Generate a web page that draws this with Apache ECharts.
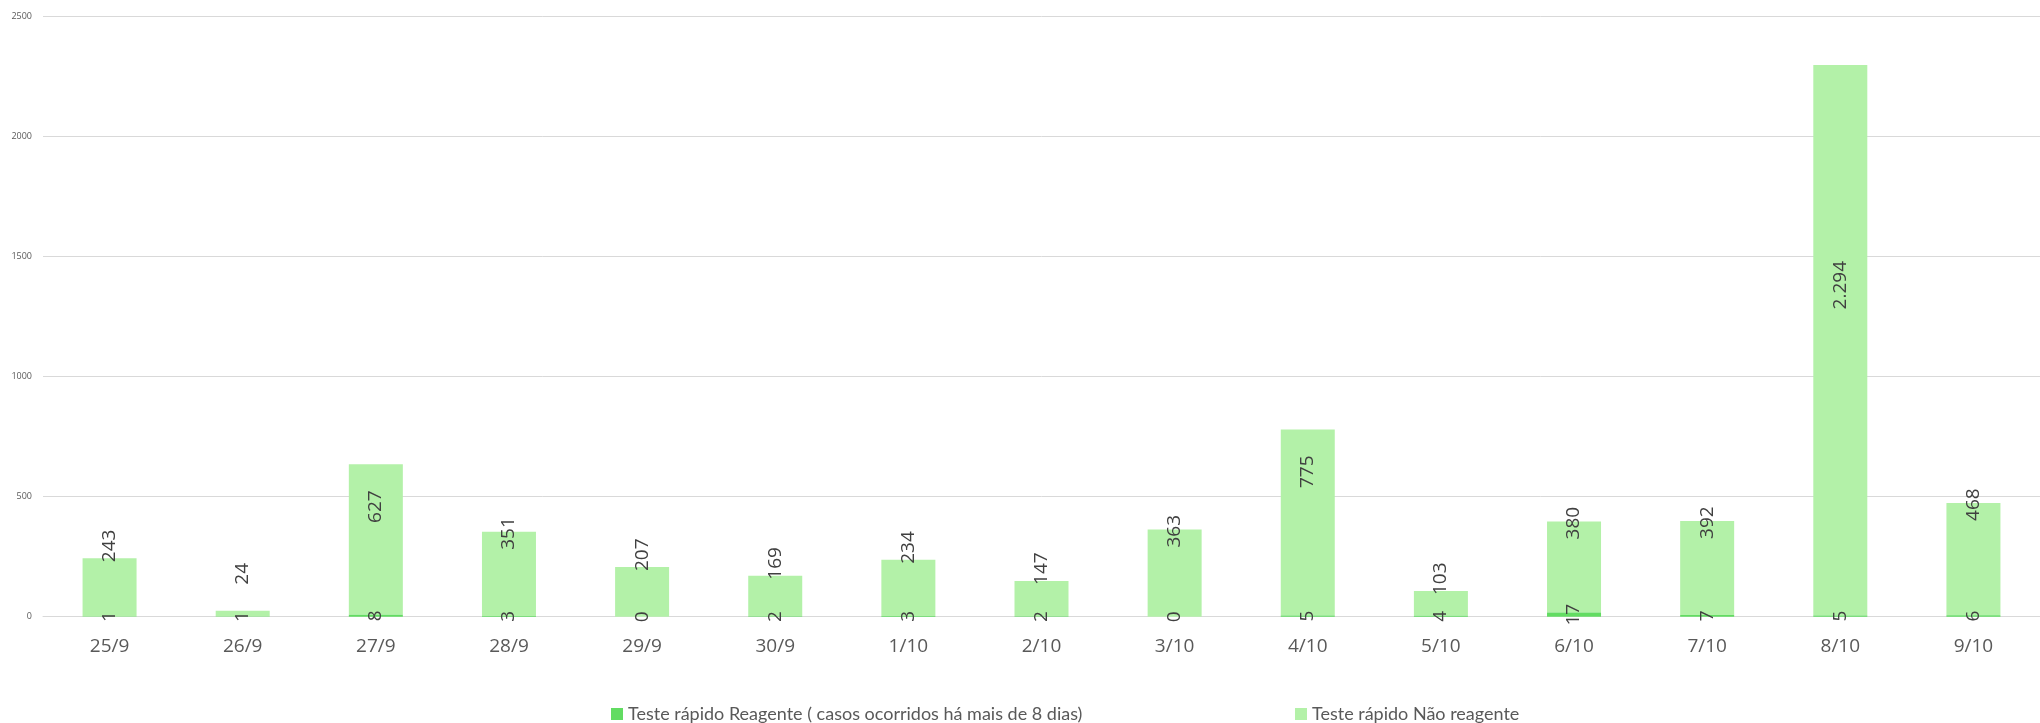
<!DOCTYPE html>
<html>
<head>
<meta charset="utf-8">
<script src="https://cdn.jsdelivr.net/npm/echarts@6/dist/echarts.min.js"></script>
<style>
html,body{margin:0;padding:0;background:#fff;}
#chart{width:2040px;height:723px;}
</style>
</head>
<body>
<div id="chart"></div>
<script>
const categories = ['25/9','26/9','27/9','28/9','29/9','30/9','1/10','2/10','3/10','4/10','5/10','6/10','7/10','8/10','9/10'];
const reagente = [1,1,8,3,0,2,3,2,0,5,4,17,7,5,6];
const naoReagente = [243,24,627,351,207,169,234,147,363,775,103,380,392,2294,468];
const seriesNames = ['Teste rápido Reagente ( casos ocorridos há mais de 8 dias)','Teste rápido Não reagente'];
const yTicks = {min:0, max:2500, interval:500};

const C_DARK = '#62dc62';
const C_LIGHT = '#b3f1a8';
const LABEL_COLOR = '#404040';

function fmt(v){ return v >= 1000 ? v.toLocaleString('pt-BR') : String(v); }

const topData = naoReagente.map(v => {
  let label;
  if (v > 1500) {
    label = {position:'insideTop', distance:196, align:'right', verticalAlign:'middle'};
  } else if (v > 600) {
    label = {position:'insideTop', distance:26, align:'right', verticalAlign:'middle'};
  } else if (v < 30) {
    label = {position:'top', distance:26, align:'left', verticalAlign:'middle'};
  } else if (v >= 300) {
    label = {position:'top', distance:-18, align:'left', verticalAlign:'middle'};
  } else {
    label = {position:'top', distance:-4, align:'left', verticalAlign:'middle'};
  }
  return {value:v, label:label};
});

const chart = echarts.init(document.getElementById('chart'));
chart.setOption({
  animation:false,
  backgroundColor:'#ffffff',
  grid:{left:43, top:16.7, bottom:106.3, width:2011, containLabel:false},
  legend:[
    {data:[seriesNames[0]], left:606, top:700, itemWidth:12, itemHeight:12, itemGap:10,
     textStyle:{fontFamily:'Lato', fontSize:18, color:'#595959'}, icon:'rect'},
    {data:[seriesNames[1]], left:1290, top:700, itemWidth:12, itemHeight:12, itemGap:10,
     textStyle:{fontFamily:'Lato', fontSize:18, color:'#595959'}, icon:'rect'}
  ],
  xAxis:{
    type:'category', data:categories,
    axisLine:{lineStyle:{color:'#d9d9d9', width:1}},
    axisTick:{show:false},
    axisLabel:{color:'#595959', fontFamily:'Open Sans', fontSize:19, margin:20}
  },
  yAxis:{
    type:'value', min:yTicks.min, max:yTicks.max, interval:yTicks.interval,
    axisLine:{show:false}, axisTick:{show:false},
    axisLabel:{color:'#595959', fontFamily:'Open Sans', fontSize:9, margin:11, formatter:v=>String(v)},
    splitLine:{lineStyle:{color:'#d9d9d9', width:1}}
  },
  series:[
    {
      name:seriesNames[0], type:'bar', stack:'total', data:reagente,
      barWidth:54, itemStyle:{color:C_DARK},
      label:{show:true, position:'inside', rotate:90, color:LABEL_COLOR,
             fontFamily:'Open Sans', fontSize:19, formatter:p=>fmt(p.value)},
      z:3
    },
    {
      name:seriesNames[1], type:'bar', stack:'total', data:topData,
      barWidth:54, itemStyle:{color:C_LIGHT},
      label:{show:true, rotate:90, color:LABEL_COLOR,
             fontFamily:'Open Sans', fontSize:19, formatter:p=>fmt(p.value)},
      z:2
    }
  ]
});
</script>
</body>
</html>
